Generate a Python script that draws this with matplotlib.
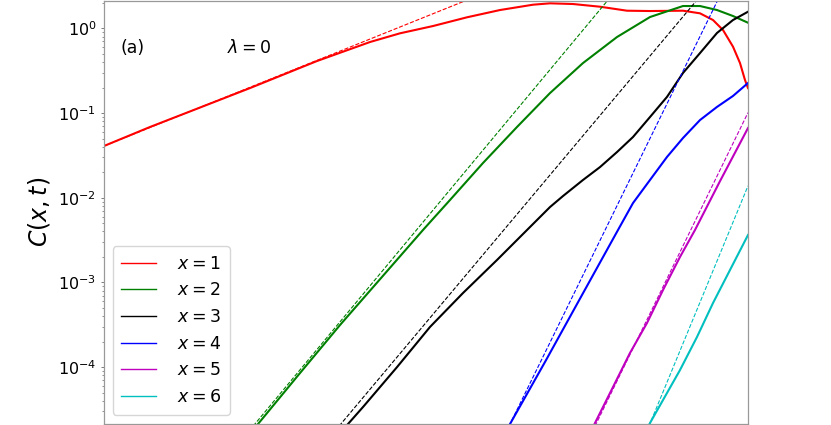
import numpy as np
import matplotlib
matplotlib.use("Agg")
import matplotlib.pyplot as plt

# C(x,t) の時間発展 (λ=0)  実線: 数値解, 破線: 短時間の漸近形
t1 = [0.00, 0.46, 0.96, 1.46, 2.13, 2.66, 2.96, 3.29, 3.63, 3.96, 4.29, 4.46,
      4.69, 4.96, 5.23, 5.46, 5.79, 5.96, 6.09, 6.19, 6.29, 6.36, 6.41, 6.44]
c1 = [0.0408, 0.0684, 0.116, 0.197, 0.411, 0.689, 0.873, 1.064, 1.349, 1.644, 1.900, 1.973,
      1.936, 1.799, 1.614, 1.600, 1.614, 1.503, 1.253, 0.955, 0.607, 0.389, 0.245, 0.197]

t2 = [1.36, 1.54, 1.96, 2.36, 3.19, 3.46, 3.79, 4.13, 4.46, 4.79, 5.13, 5.46,
      5.79, 5.96, 6.13, 6.29, 6.44]
c2 = [1.17e-5, 2.13e-5, 8.51e-5, 3.14e-4, 4.16e-3, 9.40e-3, 0.0257, 0.0684, 0.172,
      0.389, 0.789, 1.359, 1.833, 1.833, 1.644, 1.397, 1.164]

t3 = [2.26, 2.44, 2.59, 2.93, 3.26, 3.59, 3.93, 4.26, 4.46, 4.59, 4.79, 4.96, 5.13,
      5.29, 5.46, 5.63, 5.79, 5.96, 6.13, 6.29, 6.44]
c3 = [1.20e-5, 2.13e-5, 3.38e-5, 1.00e-4, 2.98e-4, 7.50e-4, 1.84e-3, 4.51e-3, 7.76e-3,
      0.01047, 0.0162, 0.0230, 0.0346, 0.0521, 0.0897, 0.155, 0.297, 0.510, 0.881,
      1.253, 1.570]

t4 = [3.96, 4.06, 4.41, 4.78, 5.14, 5.29, 5.46, 5.63, 5.79, 5.96, 6.13, 6.29, 6.44]
c4 = [1.31e-5, 2.13e-5, 1.15e-4, 7.10e-4, 4.16e-3, 8.65e-3, 0.0162, 0.0303, 0.0507,
      0.0826, 0.118, 0.159, 0.226]

t5 = [4.84, 4.91, 5.09, 5.26, 5.43, 5.59, 5.76, 5.91, 6.16, 6.44]
c5 = [1.46e-5, 2.19e-5, 5.82e-5, 1.47e-4, 3.32e-4, 8.13e-4, 2.00e-3, 4.16e-3, 0.0157, 0.0665]

t6 = [5.39, 5.46, 5.76, 5.93, 6.09, 6.44]
c6 = [1.50e-5, 2.19e-5, 9.24e-5, 2.27e-4, 5.71e-4, 3.63e-3]

# 漸近形 (破線) の両端
asym_t = [[0.00, 4.00], [1.36, 5.16], [2.26, 6.06], [3.96, 6.26], [4.84, 6.44], [5.39, 6.44]]
asym_c = [[0.0408, 3.23], [1.31e-5, 3.19], [1.50e-5, 3.29], [1.22e-5, 4.24],
          [1.36e-5, 0.101], [1.36e-5, 0.0138]]

T_ALL = [t1, t2, t3, t4, t5, t6]
C_ALL = [c1, c2, c3, c4, c5, c6]
COLORS = ["r", "g", "k", "b", "m", "c"]
LABELS = [f"$x={i}$" for i in range(1, 7)]

fig = plt.figure(figsize=(8.31, 4.25), dpi=100)
ax = fig.add_axes([104 / 831, 1.5 / 425, 644 / 831, 423 / 425])

for t, c, col, lab, at, ac in zip(T_ALL, C_ALL, COLORS, LABELS, asym_t, asym_c):
    ax.plot(at, ac, color=col, lw=0.8, linestyle="--")
    ax.plot(t, c, color=col, lw=1.5, label=lab)

ax.set_yscale("log")
ax.set_xlim(0, 6.44)
ax.set_ylim(2.16e-5, 2.13)
ax.set_ylabel("$C(x,t)$", fontsize=17)

for s in ax.spines.values():
    s.set_color("#999999")
    s.set_linewidth(0.9)
ax.tick_params(axis="x", bottom=False, labelbottom=False)
ax.tick_params(axis="y", which="major", length=2, width=0.6, color="#666666", labelsize=11.5)
ax.tick_params(axis="y", which="minor", length=1.2, width=0.5, color="#666666")

ax.text(0.026, 0.887, "(a)", transform=ax.transAxes, fontsize=12.5, va="center")
ax.text(0.191, 0.887, r"$\lambda=0$", transform=ax.transAxes, fontsize=12.5, va="center")

leg = ax.legend(loc="lower left", fontsize=12.5, handletextpad=1.2, borderpad=0.5)
for h in leg.get_lines():
    h.set_linewidth(1.0)

fig.savefig("out.png", dpi=100)
